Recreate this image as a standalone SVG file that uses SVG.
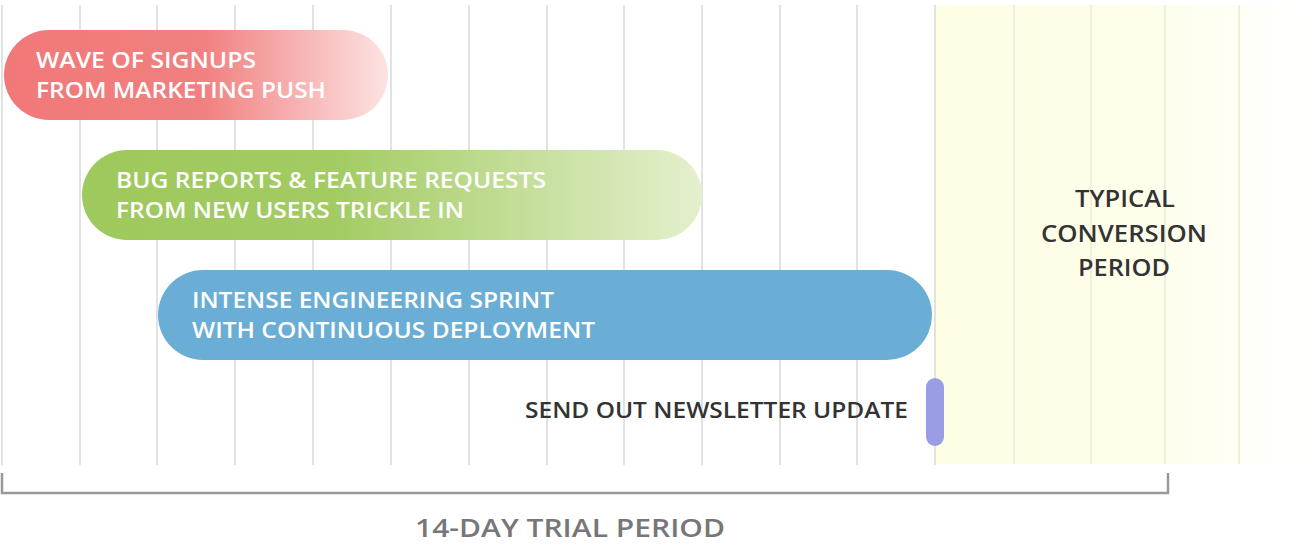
<svg xmlns="http://www.w3.org/2000/svg" width="1314" height="554" viewBox="0 0 1314 554">
<defs>
<style>
.grid{stroke:#e2e2e2;stroke-width:2}
.ygrid{stroke:#efefdc;stroke-width:2}
.lbl{font-family:"Open Sans",Lato,"Liberation Sans",sans-serif;font-size:22px;font-weight:600;fill:#ffffff}
.dark{font-family:"Open Sans",Lato,"Liberation Sans",sans-serif;font-weight:600;fill:#333333}
.bracket{fill:none;stroke:#999999;stroke-width:2.5}
</style>
<linearGradient id="redG" x1="0" y1="0" x2="1" y2="0">
<stop offset="0" stop-color="#f17878"/>
<stop offset="0.52" stop-color="#f18080"/>
<stop offset="1" stop-color="#fde3e3"/>
</linearGradient>
<linearGradient id="greenG" x1="0" y1="0" x2="1" y2="0">
<stop offset="0" stop-color="#9ec95c"/>
<stop offset="0.4" stop-color="#a2cb62"/>
<stop offset="1" stop-color="#e4f0cd"/>
</linearGradient>
<linearGradient id="yellowG" x1="0" y1="0" x2="1" y2="0">
<stop offset="0" stop-color="#fefee4"/>
<stop offset="0.55" stop-color="#fefeea"/>
<stop offset="1" stop-color="#ffffff"/>
</linearGradient>
</defs>
<rect width="1314" height="554" fill="#ffffff"/>
<g id="conversion-area">
<rect x="935" y="5" width="375" height="459" fill="url(#yellowG)"/>
</g>
<g id="grid">
<line class="grid" x1="2" y1="5" x2="2" y2="465"/>
<line class="grid" x1="80" y1="5" x2="80" y2="465"/>
<line class="grid" x1="157" y1="5" x2="157" y2="465"/>
<line class="grid" x1="235" y1="5" x2="235" y2="465"/>
<line class="grid" x1="313" y1="5" x2="313" y2="465"/>
<line class="grid" x1="391" y1="5" x2="391" y2="465"/>
<line class="grid" x1="469" y1="5" x2="469" y2="465"/>
<line class="grid" x1="547" y1="5" x2="547" y2="465"/>
<line class="grid" x1="624" y1="5" x2="624" y2="465"/>
<line class="grid" x1="702" y1="5" x2="702" y2="465"/>
<line class="grid" x1="780" y1="5" x2="780" y2="465"/>
<line class="grid" x1="857" y1="5" x2="857" y2="465"/>
<line class="grid" x1="935" y1="5" x2="935" y2="465"/>
<line class="ygrid" x1="1014" y1="5" x2="1014" y2="464"/>
<line class="ygrid" x1="1091" y1="5" x2="1091" y2="464"/>
<line class="ygrid" x1="1165" y1="5" x2="1165" y2="464"/>
<line class="ygrid" x1="1239" y1="5" x2="1239" y2="464"/>
</g>
<g id="signups">
<rect x="4" y="30" width="384" height="90" rx="45" fill="url(#redG)"/>
<text class="lbl" x="36" y="68" textLength="220" lengthAdjust="spacingAndGlyphs">WAVE OF SIGNUPS</text>
<text class="lbl" x="36" y="98" textLength="290" lengthAdjust="spacingAndGlyphs">FROM MARKETING PUSH</text>
</g>
<g id="bug-reports">
<rect x="82" y="150" width="620" height="90" rx="45" fill="url(#greenG)"/>
<text class="lbl" x="116" y="188" textLength="430" lengthAdjust="spacingAndGlyphs">BUG REPORTS &amp; FEATURE REQUESTS</text>
<text class="lbl" x="116" y="218" textLength="348" lengthAdjust="spacingAndGlyphs">FROM NEW USERS TRICKLE IN</text>
</g>
<g id="sprint">
<rect x="158" y="270" width="774" height="90" rx="45" fill="#6aaed6"/>
<text class="lbl" x="192" y="308" textLength="362" lengthAdjust="spacingAndGlyphs">INTENSE ENGINEERING SPRINT</text>
<text class="lbl" x="192" y="338" textLength="403" lengthAdjust="spacingAndGlyphs">WITH CONTINUOUS DEPLOYMENT</text>
</g>
<g id="newsletter">
<rect x="926" y="378" width="18" height="68" rx="9" fill="#9a9ce4"/>
<text class="dark" x="525" y="418" font-size="21" textLength="383" lengthAdjust="spacingAndGlyphs">SEND OUT NEWSLETTER UPDATE</text>
</g>
<g id="conversion-label">
<text class="dark" x="1075" y="207" font-size="24" textLength="100" lengthAdjust="spacingAndGlyphs">TYPICAL</text>
<text class="dark" x="1041" y="242" font-size="24" textLength="166" lengthAdjust="spacingAndGlyphs">CONVERSION</text>
<text class="dark" x="1078" y="276" font-size="24" textLength="92" lengthAdjust="spacingAndGlyphs">PERIOD</text>
</g>
<g id="connectors">
<path class="bracket" d="M2,473 V493 H1168 V473"/>
</g>
<g id="trial-label">
<text x="415" y="537" font-family="'Open Sans',Lato,'Liberation Sans',sans-serif" font-weight="600" font-size="25.5" fill="#777777" textLength="310" lengthAdjust="spacingAndGlyphs">14-DAY TRIAL PERIOD</text>
</g>
</svg>
